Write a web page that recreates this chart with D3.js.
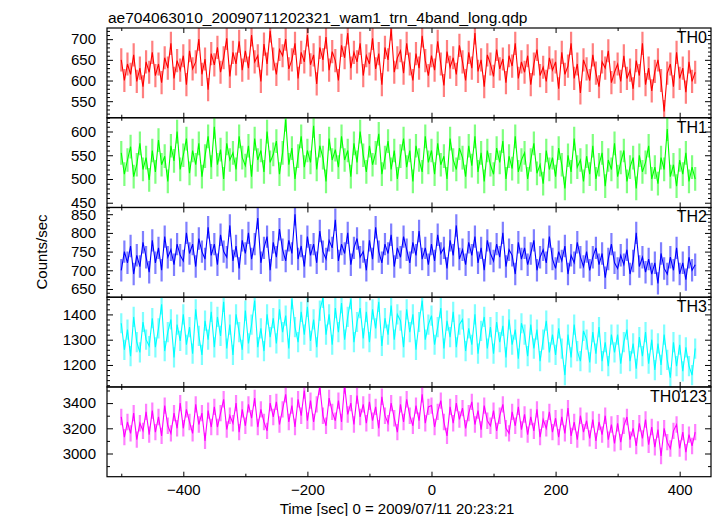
<!DOCTYPE html>
<html>
<head>
<meta charset="utf-8">
<script src="https://cdn.jsdelivr.net/npm/d3@7/dist/d3.min.js"></script>
<style>
html,body{margin:0;padding:0;background:#fff;}
svg{display:block;font-family:"Liberation Sans",Arial,Helvetica,sans-serif;}
</style>
</head>
<body>
<svg id="c" width="717" height="516"></svg>
<script>
// ---- data ----
const title = "ae704063010_20090711202321_wam1_trn_4band_long.qdp";
const xLabel = "Time [sec] 0 = 2009/07/11 20:23:21";
const yLabel = "Counts/sec";
const panelNames = ["TH0", "TH1", "TH2", "TH3", "TH0123"];
const tStart = -500, tStep = 5;
const th0 = [650,600,640,615,662,598,630,585,645,620,
668,612,640,595,655,630,690,605,648,625,
660,590,672,628,645,700,615,652,578,665,
638,680,620,655,702,610,668,640,695,625,
672,630,710,645,660,598,688,640,720,652,
615,675,660,700,628,650,690,605,668,645,
710,638,662,592,680,650,705,625,670,648,
600,685,655,715,630,668,645,690,612,660,
640,702,628,665,590,680,650,725,620,655,
672,618,690,640,600,665,630,708,648,612,
660,625,695,640,588,670,632,655,615,685,
645,600,668,630,715,622,650,585,662,640,
610,675,628,652,595,660,635,690,605,645,
620,660,590,640,675,612,632,598,655,625,
645,580,668,615,635,690,605,640,570,650,
628,600,662,618,585,645,630,672,595,620,
640,598,660,605,625,580,648,612,690,590,
630,575,622,650,600,525,618,640,585,668,
605,630,572,645,598,620];
const th1 = [555,510,540,568,505,530,575,520,545,498,
560,515,582,530,548,495,570,538,600,520,
550,585,512,560,530,575,505,548,590,525,
610,530,562,500,575,540,555,520,590,545,
528,570,505,585,540,560,515,600,535,552,
580,510,555,625,530,565,500,548,590,525,
560,535,612,520,570,545,495,585,540,562,
525,590,540,560,505,575,535,600,550,515,
570,530,555,595,510,545,580,520,560,500,
548,585,525,560,495,570,540,515,590,535,
560,510,575,530,548,500,585,540,520,565,
545,505,570,528,590,515,555,495,560,530,
510,565,535,580,500,548,522,590,515,540,
555,500,540,575,512,530,490,560,520,545,
505,565,530,480,550,515,585,525,540,495,
548,510,570,500,530,555,485,540,520,575,
505,535,560,495,525,545,480,550,515,535,
570,500,525,490,545,520,605,505,530,485,
540,510,555,495,525,500];
const th2 = [700,750,720,765,690,740,710,775,735,695,
780,720,760,700,790,735,755,715,770,740,
725,800,745,770,710,785,750,730,815,740,
770,715,795,750,735,820,725,765,705,780,
745,800,730,770,840,720,760,790,700,775,
735,810,755,725,780,745,850,730,765,710,
790,740,770,720,805,750,730,780,760,835,
725,770,745,800,715,760,785,735,750,700,
780,730,815,750,720,770,745,795,710,760,
735,790,755,720,775,740,805,730,760,715,
770,725,795,745,760,705,780,740,820,730,
755,715,775,740,790,720,760,700,780,745,
725,770,735,800,710,755,740,690,775,730,
760,715,745,780,700,735,755,720,790,730,
705,750,725,765,690,740,720,775,735,710,
750,700,735,760,715,745,680,730,770,720,
705,740,715,755,690,725,800,710,735,695,
730,690,720,665,745,705,690,735,700,760,
690,720,675,735,700,715];
const th3 = [1365,1260,1340,1235,1390,1290,1250,1370,1300,1275,
1385,1270,1345,1440,1255,1330,1380,1230,1360,1295,
1400,1280,1350,1245,1420,1315,1240,1375,1300,1410,
1270,1390,1315,1450,1265,1360,1240,1400,1330,1260,
1415,1285,1360,1455,1270,1345,1255,1400,1310,1385,
1285,1420,1330,1395,1265,1460,1350,1290,1410,1320,
1430,1295,1380,1270,1415,1465,1320,1400,1280,1425,
1330,1445,1300,1390,1460,1290,1370,1425,1305,1410,
1290,1420,1345,1450,1275,1385,1320,1435,1300,1400,
1375,1270,1420,1330,1400,1260,1370,1455,1300,1360,
1395,1280,1350,1425,1265,1375,1310,1410,1270,1360,
1380,1255,1345,1280,1400,1245,1335,1390,1265,1350,
1245,1370,1290,1355,1230,1380,1280,1340,1225,1365,
1320,1235,1360,1265,1340,1215,1300,1375,1250,1320,
1240,1345,1265,1160,1320,1230,1360,1255,1215,1335,
1300,1210,1330,1245,1350,1215,1290,1195,1320,1250,
1320,1205,1290,1340,1215,1285,1185,1310,1235,1330,
1205,1300,1180,1285,1200,1320,1220,1150,1290,1195,
1280,1175,1270,1195,1160,1265];
const th0123 = [3290,3130,3250,3160,3320,3110,3240,3180,3330,3150,
3340,3170,3290,3140,3380,3220,3160,3320,3200,3400,
3200,3350,3250,3160,3390,3230,3320,3100,3340,3210,
3370,3210,3320,3430,3190,3300,3240,3400,3170,3350,
3220,3390,3280,3440,3210,3350,3250,3180,3400,3290,
3410,3230,3350,3470,3250,3380,3210,3430,3300,3500,
3260,3420,3250,3390,3530,3300,3220,3440,3330,3260,
3420,3250,3540,3310,3400,3230,3460,3290,3390,3240,
3410,3260,3370,3200,3450,3300,3240,3400,3280,3170,
3390,3250,3430,3300,3220,3380,3260,3470,3240,3370,
3380,3210,3330,3420,3250,3140,3370,3240,3400,3270,
3360,3200,3320,3410,3230,3340,3190,3380,3260,3220,
3340,3180,3300,3390,3200,3160,3330,3220,3370,3190,
3310,3150,3290,3180,3350,3130,3270,3200,3330,3170,
3280,3130,3290,3160,3360,3140,3250,3110,3300,3170,
3260,3120,3270,3100,3250,3150,3300,3110,3230,3080,
3240,3090,3220,3290,3110,3200,3060,3240,3120,3270,
3070,3210,3050,3190,2980,3200,3090,3040,3180,3230,
3040,3170,3010,3150,3060,3170];
const errors = [28, 25, 30, 40, 65];
const xMajorTicks = [-400, -200, 0, 200, 400];
const xMinorTicks = [-500, -300, -100, 100, 300];
const yDomains = [[510, 727], [440, 629], [628, 868], [1113, 1468], [2816, 3528]];
const yMajorStep = [50, 50, 50, 100, 200];
const yMinorStep = [10, 10, 10, 20, 100];
const colors = ["#ff0000", "#00ff00", "#0000ff", "#00ffff", "#ff00ff"];
const series = [th0, th1, th2, th3, th0123];

// ---- layout ----
const L = 107, R = 711, T = 28, B = 476.7;
const ph = (B - T) / series.length;
const svg = d3.select("#c");
const x = d3.scaleLinear().domain([-523, 450.5]).range([L, R]);

svg.append("text").attr("x", 108).attr("y", 22.5).attr("font-size", 15.5).attr("fill", "#000").text(title);
svg.append("text").attr("x", 397).attr("y", 513.5).attr("text-anchor", "middle").attr("font-size", 15).text(xLabel);
svg.append("text").attr("transform", "translate(47,252) rotate(-90)").attr("text-anchor", "middle").attr("font-size", 15).text(yLabel);

const defs = svg.append("defs");

series.forEach((vals, k) => {
  const top = T + k * ph, bot = top + ph;
  const y = d3.scaleLinear().domain(yDomains[k]).range([bot, top]);
  const g = svg.append("g");
  defs.append("clipPath").attr("id", "clip" + k).append("rect")
    .attr("x", L).attr("y", top).attr("width", R - L).attr("height", ph);
  const data = vals.map((v, i) => ({t: tStart + i * tStep, v: v}));
  const e = errors[k];
  const pg = g.append("g").attr("clip-path", "url(#clip" + k + ")");
  pg.selectAll("line.err").data(data).enter().append("line")
    .attr("x1", d => x(d.t)).attr("x2", d => x(d.t))
    .attr("y1", d => y(d.v - e)).attr("y2", d => y(d.v + e))
    .attr("stroke", colors[k]).attr("stroke-opacity", 0.5).attr("stroke-width", 2.2);
  pg.append("path").datum(data)
    .attr("d", d3.line().x(d => x(d.t)).y(d => y(d.v)))
    .attr("fill", "none").attr("stroke", colors[k]).attr("stroke-width", 1.1);

  // y axes
  const [d0, d1] = yDomains[k];
  const maj = d3.range(Math.ceil(d0 / yMajorStep[k]) * yMajorStep[k], d1 + 0.001, yMajorStep[k]);
  const min = d3.range(Math.ceil(d0 / yMinorStep[k]) * yMinorStep[k], d1 + 0.001, yMinorStep[k]).filter(v => maj.indexOf(v) < 0);
  const axL = g.append("g").attr("transform", `translate(${L},0)`)
    .call(d3.axisLeft(y).tickValues(maj).tickSizeInner(-6).tickSizeOuter(0).tickPadding(11).tickFormat(d3.format("d")));
  axL.select(".domain").remove();
  axL.selectAll("text").attr("font-size", 15).attr("font-family", "Liberation Sans, Arial, sans-serif").attr("fill", "#000");
  const axLm = g.append("g").attr("transform", `translate(${L},0)`)
    .call(d3.axisLeft(y).tickValues(min).tickSizeInner(-3).tickSizeOuter(0).tickFormat(""));
  axLm.select(".domain").remove();
  const axR = g.append("g").attr("transform", `translate(${R},0)`)
    .call(d3.axisRight(y).tickValues(maj).tickSizeInner(-6).tickSizeOuter(0).tickFormat(""));
  axR.select(".domain").remove();
  const axRm = g.append("g").attr("transform", `translate(${R},0)`)
    .call(d3.axisRight(y).tickValues(min).tickSizeInner(-3).tickSizeOuter(0).tickFormat(""));
  axRm.select(".domain").remove();

  // x ticks at top and bottom
  [[top, d3.axisTop], [bot, d3.axisBottom]].forEach(([yy, fn]) => {
    const a = g.append("g").attr("transform", `translate(0,${yy})`)
      .call(fn(x).tickValues(xMajorTicks).tickSizeInner(-5).tickSizeOuter(0).tickFormat(""));
    a.select(".domain").remove();
    const b = g.append("g").attr("transform", `translate(0,${yy})`)
      .call(fn(x).tickValues(xMinorTicks).tickSizeInner(-3).tickSizeOuter(0).tickFormat(""));
    b.select(".domain").remove();
  });

  g.append("rect").attr("x", L).attr("y", top).attr("width", R - L).attr("height", ph)
    .attr("fill", "none").attr("stroke", "#000").attr("stroke-width", 1.2);
  g.append("text").attr("x", 707).attr("y", top + 15).attr("text-anchor", "end")
    .attr("font-size", 16).attr("fill", "#000").text(panelNames[k]);
});

// x tick labels under last panel
const xl = svg.append("g").attr("transform", `translate(0,${B})`)
  .call(d3.axisBottom(x).tickValues(xMajorTicks).tickSize(0).tickPadding(8).tickFormat(d3.format("d")));
xl.select(".domain").remove();
xl.selectAll("text").attr("font-size", 15).attr("font-family", "Liberation Sans, Arial, sans-serif").attr("fill", "#000");
</script>
</body>
</html>
